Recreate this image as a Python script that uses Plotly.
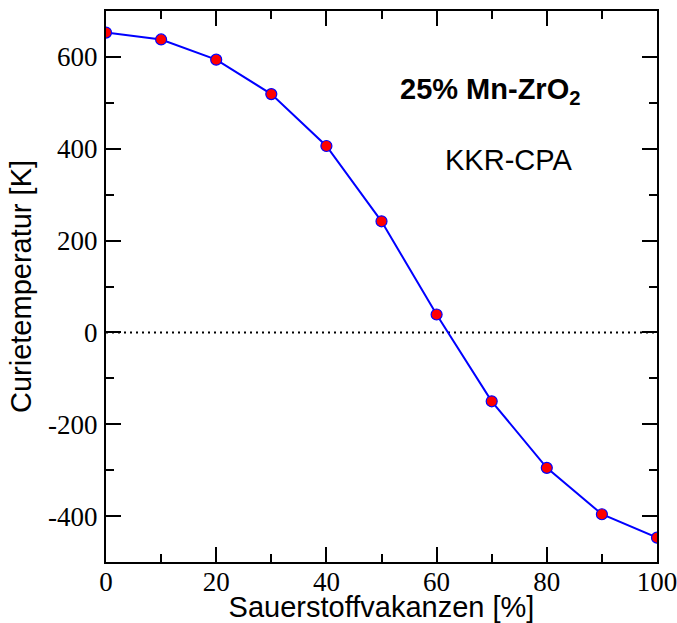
import plotly.graph_objects as go

vakanz = [0, 10, 20, 30, 40, 50, 60, 70, 80, 90, 100]
tc = [653, 638, 594, 519, 406, 242, 39, -150, -295, -396, -447]
zero_x = [0, 100]
zero_y = [0, 0]
x_ticks = [0, 20, 40, 60, 80, 100]
x_ticklabels = ["0", "20", "40", "60", "80", "100"]
y_ticks = [-400, -200, 0, 200, 400, 600]
y_ticklabels = ["-400", "-200", "0", "200", "400", "600"]

fig = go.Figure()
fig.add_trace(go.Scatter(x=zero_x, y=zero_y, mode="lines",
                         line=dict(color="black", width=2, dash="2px,4px"),
                         hoverinfo="skip", showlegend=False))
fig.add_trace(go.Scatter(x=vakanz, y=tc, mode="lines+markers",
                         line=dict(color="#0000ff", width=2),
                         marker=dict(color="#ff0000", size=11,
                                     line=dict(color="#0000ff", width=1.2)),
                         showlegend=False))

serif = "Liberation Serif"
sans = "Liberation Sans"

fig.update_layout(
    xaxis=dict(range=[0, 100], tickmode="array", tickvals=x_ticks, ticktext=x_ticklabels,
               showgrid=False, zeroline=False, showline=True, linecolor="black",
               linewidth=2, mirror="ticks", ticks="inside", ticklen=15,
               tickwidth=1.5, tickcolor="black", automargin=False,
               ticklabeloverflow="allow", ticklabelstandoff=-5,
               tickfont=dict(family=serif, size=27, color="black"),
               minor=dict(dtick=10, tick0=0, ticklen=8, tickwidth=1.5, tickcolor="black", ticks="inside"),
               title=dict(text="Sauerstoffvakanzen [%]", font=dict(family=sans, size=29, color="black"), standoff=6)),
    yaxis=dict(range=[-500, 700], tickmode="array", tickvals=y_ticks, ticktext=y_ticklabels,
               showgrid=False, zeroline=False, showline=True, linecolor="black",
               linewidth=2, mirror="ticks", ticks="inside", ticklen=15,
               tickwidth=1.5, tickcolor="black", automargin=False,
               ticklabeloverflow="allow", ticklabelstandoff=1,
               tickfont=dict(family=serif, size=27, color="black"),
               minor=dict(dtick=100, tick0=0, ticklen=8, tickwidth=1.5, tickcolor="black", ticks="inside"),
               title=dict(text="Curietemperatur [K]", font=dict(family=sans, size=29, color="black"), standoff=8)),
)

fig.add_annotation(x=0.697, y=0.855, xref="paper", yref="paper",
                   xanchor="center", yanchor="middle",
                   text="<b>25% Mn-ZrO<sub>2</sub></b>", showarrow=False,
                   font=dict(family=sans, size=29, color="black"))
fig.add_annotation(x=0.731, y=0.73, xref="paper", yref="paper",
                   xanchor="center", yanchor="middle",
                   text="KKR-CPA", showarrow=False,
                   font=dict(family=sans, size=29, color="black"))

fig.update_layout(width=677, height=623, margin=dict(l=106, r=20, t=11, b=61, autoexpand=False),
                  plot_bgcolor="white", paper_bgcolor="white")

fig.write_html("out.html")
